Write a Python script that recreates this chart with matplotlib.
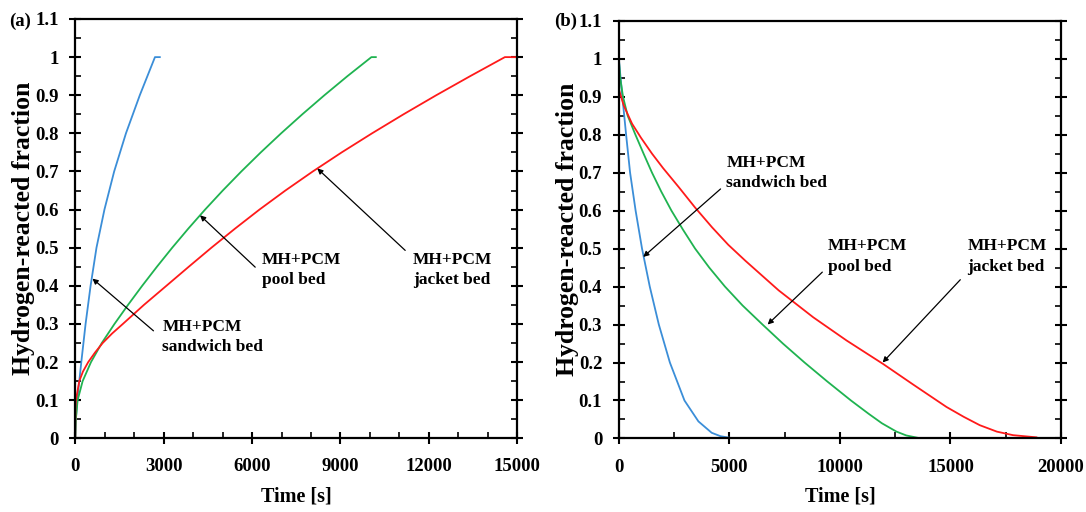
import numpy as np
import matplotlib
matplotlib.use('Agg')
from matplotlib import pyplot as plt
from matplotlib.ticker import MultipleLocator, FuncFormatter

# ---- panel (a): absorption (time in s, reacted fraction) ----
a_t_sand = [0, 20, 68, 205, 350, 520, 720, 990, 1320, 1720, 2190, 2705, 2870]
a_x_sand = [0.0, 0.05, 0.1, 0.2, 0.3, 0.4, 0.5, 0.6, 0.7, 0.8, 0.9, 1.0, 1.0]
a_t_pool = [0, 20, 80, 250, 534, 900, 1330, 1790, 2270, 2770, 3290, 3835, 4405, 5005,
            5635, 6295, 6985, 7705, 8455, 9235, 10050, 10200]
a_x_pool = [0.0, 0.05, 0.1, 0.15, 0.2, 0.25, 0.3, 0.35, 0.4, 0.45, 0.5, 0.55, 0.6, 0.65,
            0.7, 0.75, 0.8, 0.85, 0.9, 0.95, 1.0, 1.0]
a_t_jack = [0, 5, 23, 136, 260, 440, 670, 930, 1250, 1614, 2330, 3091, 3850, 4620, 5420,
            6250, 7130, 8060, 9040, 10070, 11140, 12250, 13400, 14580, 15000]
a_x_jack = [0.0, 0.08, 0.1, 0.15, 0.175, 0.2, 0.225, 0.25, 0.275, 0.3, 0.35, 0.4, 0.45,
            0.5, 0.55, 0.6, 0.65, 0.7, 0.75, 0.8, 0.85, 0.9, 0.95, 1.0, 1.0]

# ---- panel (b): desorption ----
b_t_sand = [0, 160, 330, 510, 760, 1050, 1400, 1810, 2310, 2970, 3600, 4200, 4600, 5000]
b_x_sand = [1.0, 0.9, 0.8, 0.7, 0.6, 0.5, 0.4, 0.3, 0.2, 0.1, 0.045, 0.015, 0.006, 0.002]
b_t_pool = [0, 60, 190, 400, 750, 1120, 1500, 1920, 2380, 2900, 3450, 4090, 4800, 5600,
            6500, 7420, 8400, 9430, 10500, 11300, 11900, 12560, 13000, 13500]
b_x_pool = [1.0, 0.95, 0.9, 0.85, 0.8, 0.75, 0.7, 0.65, 0.6, 0.55, 0.5, 0.45, 0.4, 0.35,
            0.3, 0.25, 0.2, 0.15, 0.1, 0.065, 0.04, 0.018, 0.008, 0.002]
b_t_jack = [0, 220, 597, 1000, 1501, 2000, 2708, 3450, 4217, 4950, 5723, 7229, 8795,
            10301, 11958, 13313, 14819, 15600, 16325, 17100, 17831, 18886]
b_x_jack = [0.92, 0.877, 0.829, 0.792, 0.75, 0.712, 0.662, 0.608, 0.556, 0.51, 0.468, 0.39,
            0.319, 0.258, 0.196, 0.142, 0.083, 0.057, 0.035, 0.018, 0.0087, 0.003]

c_sand = '#3b8ed8'
c_pool = '#1fb350'
c_jack = '#ff1a1a'

plt.rcParams['font.family'] = ['Liberation Serif', 'DejaVu Serif']
plt.rcParams['font.weight'] = 'bold'

fig = plt.figure(figsize=(10.86, 5.12), dpi=100)
ax1 = fig.add_axes([0.0693, 0.1439, 0.4070, 0.8190])
ax2 = fig.add_axes([0.5698, 0.1436, 0.4072, 0.8160])


def style_axes(ax, xmax, xmajor, xminor):
    ax.set_xlim(0, xmax)
    ax.set_ylim(0, 1.1)
    ax.xaxis.set_major_locator(MultipleLocator(xmajor))
    ax.xaxis.set_minor_locator(MultipleLocator(xminor))
    ax.yaxis.set_major_locator(MultipleLocator(0.1))
    ax.yaxis.set_minor_locator(MultipleLocator(0.05))
    ax.tick_params(which='major', direction='inout', length=9, width=1.5,
                   labelsize=13.5, right=True)
    ax.tick_params(axis='y', which='major', pad=7.5)
    ax.tick_params(axis='x', which='major', pad=10)
    ax.tick_params(which='minor', direction='in', length=4, width=1.2, right=True)
    for s in ax.spines.values():
        s.set_linewidth(1.6)
    ax.yaxis.set_major_formatter(FuncFormatter(
        lambda v, p: '0' if abs(v) < 1e-9 else ('1' if abs(v - 1) < 1e-9 else f'{v:.1f}')))
    ax.set_xlabel('Time [s]', fontsize=14.5, fontweight='bold', labelpad=8)
    ax.set_ylabel('Hydrogen-reacted fraction', fontsize=18.5, fontweight='bold', labelpad=0)


ax1.plot(a_t_sand, a_x_sand, color=c_sand, lw=1.3)
ax1.plot(a_t_pool, a_x_pool, color=c_pool, lw=1.3)
ax1.plot(a_t_jack, a_x_jack, color=c_jack, lw=1.3)
style_axes(ax1, 15000, 3000, 1000)

ax2.plot(b_t_sand, b_x_sand, color=c_sand, lw=1.3)
ax2.plot(b_t_pool, b_x_pool, color=c_pool, lw=1.3)
ax2.plot(b_t_jack, b_x_jack, color=c_jack, lw=1.3)
style_axes(ax2, 20000, 5000, 2500)

arrow = dict(arrowstyle='-|>', color='black', lw=0.9, mutation_scale=8, shrinkA=0, shrinkB=0)
tkw = dict(fontsize=12.5, fontweight='bold', ha='left', va='center', linespacing=1.35)

ax1.annotate('', xy=(583, 0.419), xytext=(2654, 0.282), arrowprops=arrow)
ax1.text(2960, 0.265, 'MH+PCM\nsandwich bed', **tkw)
ax1.annotate('', xy=(4234, 0.585), xytext=(6107, 0.449), arrowprops=arrow)
ax1.text(6340, 0.442, 'MH+PCM\npool bed', **tkw)
ax1.annotate('', xy=(8213, 0.708), xytext=(11197, 0.493), arrowprops=arrow)
ax1.text(11464, 0.442, 'MH+PCM\njacket bed', **tkw)

ax2.annotate('', xy=(1103, 0.478), xytext=(4602, 0.657), arrowprops=arrow)
ax2.text(4870, 0.699, 'MH+PCM\nsandwich bed', **tkw)
ax2.annotate('', xy=(6730, 0.30), xytext=(9204, 0.438), arrowprops=arrow)
ax2.text(9456, 0.479, 'MH+PCM\npool bed', **tkw)
ax2.annotate('', xy=(11931, 0.20), xytext=(15445, 0.418), arrowprops=arrow)
ax2.text(15760, 0.479, 'MH+PCM\njacket bed', **tkw)

fig.text(0.008, 0.958, '(a)', fontsize=13.5, fontweight='bold', va='center', ha='left')
fig.text(0.510, 0.958, '(b)', fontsize=13.5, fontweight='bold', va='center', ha='left')

fig.savefig('out.png', dpi=100)
